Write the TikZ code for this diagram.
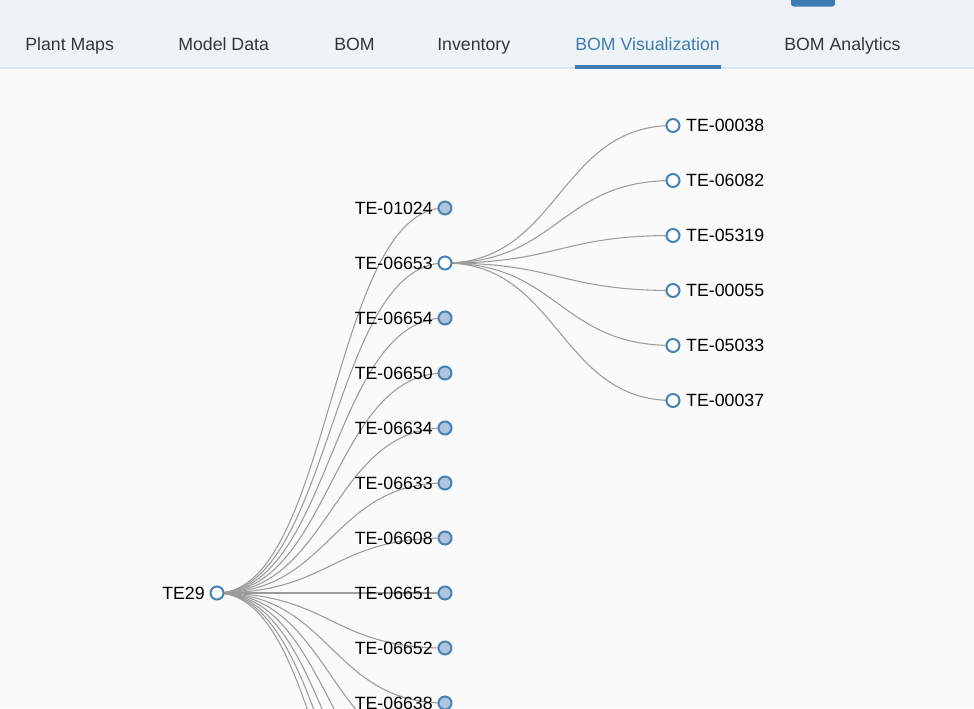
\documentclass[tikz,border=0pt]{standalone}
\usepackage{fontspec}
\setmainfont{Liberation Sans}
\usetikzlibrary{positioning,backgrounds}
\definecolor{steel}{HTML}{4682B4}
\definecolor{lightsteel}{HTML}{B0C4DE}
\definecolor{linkgray}{HTML}{9C9C9C}
\definecolor{headbg}{HTML}{EEF3F8}
\definecolor{headline}{HTML}{D8E3EC}
\definecolor{pagebg}{HTML}{FAFAFA}
\definecolor{tabtext}{HTML}{32363A}
\definecolor{tabactive}{HTML}{3F7BB0}
\pgfdeclarelayer{edges}
\pgfsetlayers{background,edges,main}

\begin{document}
\begin{tikzpicture}[x=0.75pt, y=-0.75pt,
    bomleaf/.style={draw=steel, circle, line width=1.5pt, minimum size=9.75pt, inner sep=0pt, fill=lightsteel},
    bomopen/.style={bomleaf, fill=white},
    bomlabel/.style={inner sep=0pt, font=\fontsize{13.3}{16}\selectfont},
    tabitem/.style={anchor=base west, inner sep=0pt, text=tabtext, font=\fontsize{13.3}{16}\selectfont},
    bomlink/.style={draw=linkgray, line width=0.8pt}]
    \useasboundingbox (0,0) rectangle (974,708);
    \begin{pgfonlayer}{background}
        \fill[pagebg] (0,0) rectangle (974,708);
        \fill[headbg] (0,0) rectangle (974,67);
        \fill[headline] (0,67) rectangle (974,69);
        \fill[tabactive] (575,65) rectangle (721,69);
        \fill[tabactive, rounded corners=2pt] (791,-6) rectangle (835,6.5);
    \end{pgfonlayer}
    \clip (0,0) rectangle (974,708);

    \node[tabitem] (plant) at (25,50) {Plant Maps};
    \node[tabitem] (model) at (178,50) {Model Data};
    \node[tabitem] (bom) at (334,50) {BOM};
    \node[tabitem] (inventory) at (437,50) {Inventory};
    \node[tabitem, text=tabactive] (bomvis) at (575,50) {BOM Visualization};
    \node[tabitem] (bomana) at (784,50) {BOM Analytics};

    \node[bomopen] (te29) at (217,593) {};
    \node[bomlabel, left=3.4pt of te29] (te29-l) {TE29};

    \foreach \name/\sty [count=\i from 0] in {01024/bomleaf, 06653/bomopen, 06654/bomleaf, 06650/bomleaf, 06634/bomleaf, 06633/bomleaf, 06608/bomleaf, 06651/bomleaf, 06652/bomleaf, 06638/bomleaf} {
        \node[\sty] (k\name) at (445,208+55*\i) {};
        \node[bomlabel, left=3.4pt of k\name] (k\name-l) {TE-\name};
    }
    \foreach \i in {10,...,14}
        \coordinate (k\i) at (445,208+55*\i);

    \foreach \name [count=\i from 0] in {00038,06082,05319,00055,05033,00037} {
        \node[bomopen] (g\name) at (673,125.5+55*\i) {};
        \node[bomlabel, right=4.1pt of g\name] (g\name-l) {TE-\name};
    }

    \begin{pgfonlayer}{edges}
        \clip (0,0) rectangle (974,708);
        \foreach \k in {k01024,k06653,k06654,k06650,k06634,k06633,k06608,k06651,k06652,k06638,k10,k11,k12,k13,k14}
            \draw[bomlink] (te29.center) .. controls +(114,0) and +(-114,0) .. (\k.center);
        \foreach \g in {g00038,g06082,g05319,g00055,g05033,g00037}
            \draw[bomlink] (k06653.center) .. controls +(114,0) and +(-114,0) .. (\g.center);
    \end{pgfonlayer}
\end{tikzpicture}
\end{document}
